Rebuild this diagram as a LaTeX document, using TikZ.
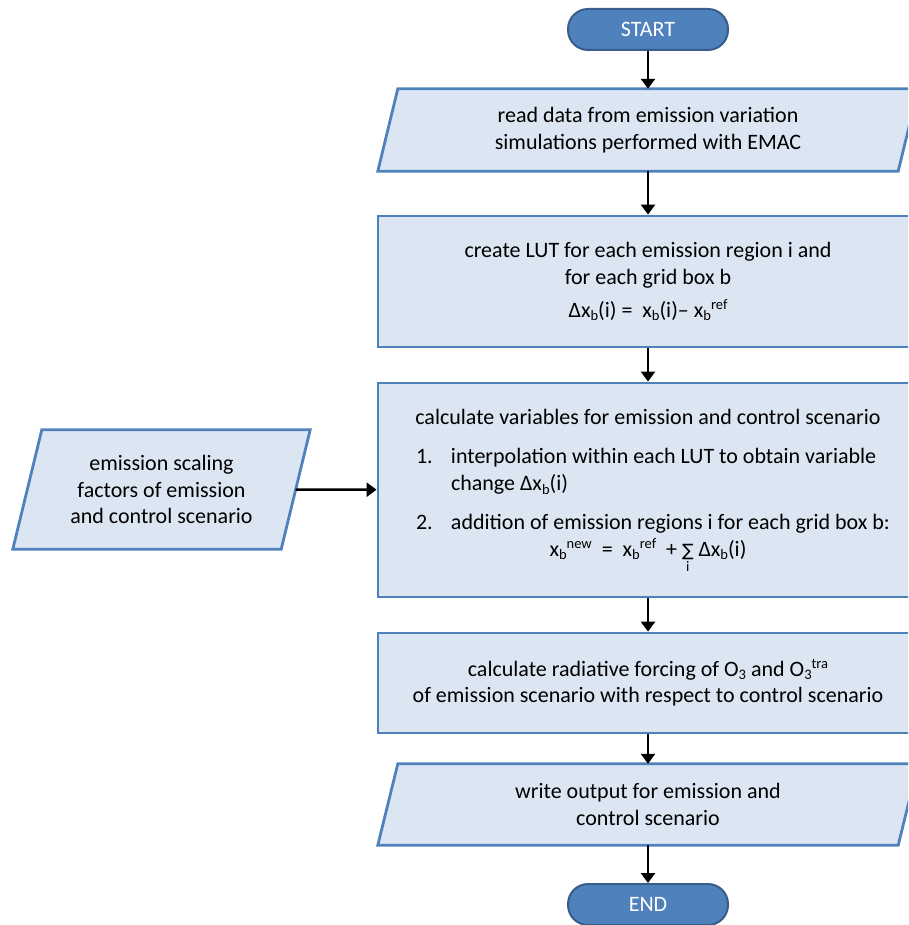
\documentclass[tikz,border=0pt]{standalone}
\usepackage{fontspec}
\setmainfont{Carlito}
\newfontfamily\symf{DejaVu Sans}
\usetikzlibrary{arrows.meta,backgrounds,calc}
\definecolor{boxfill}{HTML}{DCE6F2}
\definecolor{boxline}{HTML}{4F81BD}
\definecolor{termfill}{HTML}{4F81BD}
\definecolor{termline}{HTML}{385D8A}
\newcommand{\lsub}[1]{\raisebox{-3.5pt}{\fontsize{14.5}{14.5}\selectfont #1}}
\newcommand{\lsup}[1]{\raisebox{7.5pt}{\fontsize{14.5}{14.5}\selectfont #1}}
\newcommand{\sumi}{\begin{tabular}[t]{@{}c@{}}{\symf\fontsize{17}{17}\selectfont ∑}\\[-12pt]{\fontsize{14.5}{14.5}\selectfont i}\end{tabular}}
\tikzset{
  txt/.style={font=\fontsize{22}{26.8}\selectfont, align=center, inner sep=0pt},
  procbox/.style={txt, rectangle, draw=boxline, line width=2.8pt, fill=boxfill, minimum width=540pt},
  iotext/.style={txt, rectangle},
  iobox/.style={draw=boxline, line width=2.8pt, fill=boxfill},
  term/.style={txt, rectangle, rounded corners=20pt, draw=termline, line width=2pt, fill=termfill, text=white, minimum width=160pt, minimum height=41pt},
  flow/.style={-{Triangle[length=10pt,width=14pt]}, line width=2.5pt, black}
}
\begin{document}
\begin{tikzpicture}[x=1pt,y=-1pt]
\useasboundingbox (0,0) rectangle (908,925);
\clip (0,0) rectangle (908,925);
\node[term] (start) at (648,29.5) {START};
\node[iotext, minimum width=520pt, minimum height=82pt] (read) at (648,130) {read data from emission variation\\simulations performed with EMAC};
\node[procbox, minimum height=131pt] (lut) at (648,281.5) {create LUT for each emission region i and\\for each grid box b\\[6pt]Δx\lsub{b}(i) =\ \ x\lsub{b}(i)– x\lsub{b}\lsup{ref}};
\node[procbox, minimum height=214pt] (calc) at (648,490) {\begin{minipage}{474pt}%
\vspace*{8pt}%
\centering calculate variables for emission and control scenario\par\vspace{13pt}%
\raggedright
\mbox{\makebox[40pt][l]{\hspace{5pt}1.}interpolation within each LUT to obtain variable}\par
\hspace*{40pt}change Δx\lsub{b}(i)\par\vspace{12pt}%
\mbox{\makebox[40pt][l]{\hspace{5pt}2.}addition of emission regions i for each grid box b:}\par
\centering x\lsub{b}\lsup{new}\ \ =\ \ x\lsub{b}\lsup{ref}\ \ +\ \sumi\ Δx\lsub{b}(i)\par
\end{minipage}};
\node[iotext, minimum width=268pt, minimum height=119pt] (emis) at (161.5,489.5) {emission scaling\\factors of emission\\and control scenario};
\node[procbox, minimum height=100pt] (rf) at (648,683) {calculate radiative forcing of O\lsub{3} and O\lsub{3}\lsup{tra}\\of emission scenario with respect to control scenario};
\node[iotext, minimum width=520pt, minimum height=81pt] (write) at (648,804.5) {write output for emission and\\control scenario};
\node[term] (end) at (648,904.5) {END};
\begin{scope}[on background layer]
\clip (0,0) rectangle (908,925);
\path[iobox] ([xshift=10pt]read.north west) -- ([xshift=10pt]read.north east) -- ([xshift=-10pt]read.south east) -- ([xshift=-10pt]read.south west) -- cycle;
\path[iobox] ([xshift=10pt]write.north west) -- ([xshift=10pt]write.north east) -- ([xshift=-10pt]write.south east) -- ([xshift=-10pt]write.south west) -- cycle;
\path[iobox] ([xshift=14.5pt]emis.north west) -- ([xshift=14.5pt]emis.north east) -- ([xshift=-14.5pt]emis.south east) -- ([xshift=-14.5pt]emis.south west) -- cycle;
\end{scope}
\draw[flow] (start) -- (read);
\draw[flow] (read) -- (lut);
\draw[flow] (lut) -- (calc);
\draw[flow] (calc) -- (rf);
\draw[flow] (rf) -- (write);
\draw[flow] (write) -- (end);
\draw[flow] (emis) -- (calc);
\end{tikzpicture}
\end{document}
